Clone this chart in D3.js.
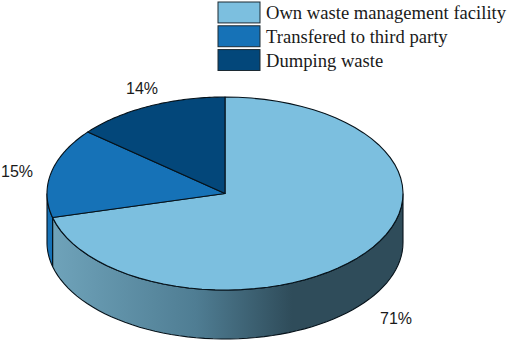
<!DOCTYPE html>
<html>
<head>
<meta charset="utf-8">
<script src="https://cdn.jsdelivr.net/npm/d3@7"></script>
<style>
  html, body { margin: 0; padding: 0; background: #fff; }
  svg { display: block; }
</style>
</head>
<body>
<div id="chart"></div>
<script>
const categories = ["Own waste management facility", "Transfered to third party", "Dumping waste"];
const values = [71, 15, 14];
const percentLabels = ["71%", "15%", "14%"];
const colors = ["#7cbfdf", "#1672b7", "#03477a"];

const width = 512;
const height = 342;
const cx = 225;
const cy = 193.5;
const rx = 178;
const ry = 96.5;
const depth = 49;

const svg = d3.select("#chart")
  .append("svg")
  .attr("width", width)
  .attr("height", height);

// shading of the front wall, light on the left and dark from the middle on
const grad = svg.append("defs").append("linearGradient")
  .attr("id", "wall")
  .attr("gradientUnits", "userSpaceOnUse")
  .attr("x1", 52).attr("x2", 292)
  .attr("y1", 0).attr("y2", 0);
grad.append("stop").attr("offset", "0%").attr("stop-color", "#6fa3ba");
grad.append("stop").attr("offset", "60%").attr("stop-color", "#4f7d93");
grad.append("stop").attr("offset", "100%").attr("stop-color", "#2f4c5a");

const pie = d3.pie().sort(null);
const slices = pie(values);

const ex = d3.scaleLinear().domain([-1, 1]).range([cx - rx, cx + rx]);
const ey = d3.scaleLinear().domain([-1, 1]).range([cy - ry, cy + ry]);

function rimPoints(a0, a1) {
  return d3.range(0, 61).map(i => a0 + (a1 - a0) * i / 60);
}

const rim = d3.line()
  .x(a => ex(Math.sin(a)))
  .y(a => ey(-Math.cos(a)));

const rimLow = d3.line()
  .x(a => ex(Math.sin(a)))
  .y(a => ey(-Math.cos(a)) + depth);

// walls first, only the part of each slice that faces front
const frontStart = Math.PI / 2;
const frontEnd = 3 * Math.PI / 2;
const wallFills = ["url(#wall)", colors[1], colors[2]];

slices.forEach((s, i) => {
  const a0 = Math.max(s.startAngle, frontStart);
  const a1 = Math.min(s.endAngle, frontEnd);
  if (a1 <= a0) return;
  const top = rimPoints(a0, a1);
  const d = rim(top) + "L" + rimLow(top.slice().reverse()).slice(1) + "Z";
  svg.append("path")
    .attr("d", d)
    .attr("fill", wallFills[i])
    .attr("stroke", "#06121a")
    .attr("stroke-width", 1.1);
});

// top of the pie
svg.selectAll("path.top")
  .data(slices)
  .enter()
  .append("path")
  .attr("class", "top")
  .attr("d", s => "M" + ex(0) + "," + ey(0) + "L" + rim(rimPoints(s.startAngle, s.endAngle)).slice(1) + "Z")
  .attr("fill", (s, i) => colors[i])
  .attr("stroke", "#06121a")
  .attr("stroke-width", 1.1)
  .attr("stroke-linejoin", "round");

// percent labels
const labelX = [396, 17, 142];
const labelY = [324, 177, 94];
svg.selectAll("text.pct")
  .data(percentLabels)
  .enter()
  .append("text")
  .attr("class", "pct")
  .attr("x", (d, i) => labelX[i])
  .attr("y", (d, i) => labelY[i])
  .attr("text-anchor", "middle")
  .attr("font-family", "'Liberation Sans', Arial, sans-serif")
  .attr("font-size", 16)
  .attr("fill", "#1a1a1a")
  .text(d => d);

// legend
const legendY = d3.scaleBand().domain(categories).range([2, 70.5]).paddingInner(0.12);
const legend = svg.selectAll("g.legend")
  .data(categories)
  .enter()
  .append("g")
  .attr("class", "legend")
  .attr("transform", d => "translate(0," + legendY(d) + ")");

legend.append("rect")
  .attr("x", 218)
  .attr("width", 42)
  .attr("height", legendY.bandwidth())
  .attr("fill", (d, i) => colors[i])
  .attr("stroke", "#1c2a33")
  .attr("stroke-width", 1);

legend.append("text")
  .attr("x", 266)
  .attr("y", 17)
  .attr("font-family", "'Liberation Serif', 'Times New Roman', serif")
  .attr("font-size", 18.6)
  .attr("fill", "#1a1a1a")
  .text(d => d);
</script>
</body>
</html>
